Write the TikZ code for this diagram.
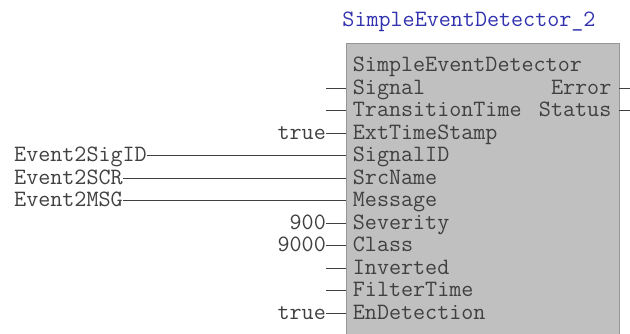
\documentclass[tikz,border=0pt]{standalone}
\usepackage{fontspec}
\usetikzlibrary{positioning}

\definecolor{fbgray}{RGB}{192,192,192}
\definecolor{fbedge}{RGB}{150,150,150}
\definecolor{wire}{RGB}{64,64,64}
\definecolor{instblue}{RGB}{50,50,175}

\tikzset{
    txt/.style={font=\ttfamily\fontsize{23.4}{24}\selectfont, text=wire, inner sep=0pt},
    pinname/.style={txt, anchor=base west},
    pinout/.style={txt, anchor=base east},
    pinval/.style={txt, anchor=base east},
    varname/.style={txt, anchor=base west},
    wireline/.style={draw=wire, line width=1pt},
}

\begin{document}
\begin{tikzpicture}[x=1pt,y=1pt]
        \useasboundingbox (0,0) rectangle (630,-333);

        \def\boxL{345.5}                            % left edge of the block
        \def\boxR{618.7}                            % right edge of the block
        \def\boxT{-43.3}                            % top edge of the block
        \def\rowA{-88.3}                            % wire height of the first pin
        \def\rowH{22.5}                             % distance between pins
        \def\base{6}                                % baseline below wire height
        \def\txtL{352.7}                            % start of the pin names
        \def\stubL{326}                             % left end of the input stubs

        % Draw the block body, running off the bottom of the picture
        \node[draw=fbedge, fill=fbgray, anchor=north west, inner sep=0pt,
              minimum width={\boxR-\boxL}, minimum height=300] (fb) at (\boxL,\boxT) {};

        % Instance name and type name
        \node[txt, text=instblue, anchor=base] (inst) at (469,-26.8) {SimpleEventDetector\_2};
        \node[pinname] (type) at (\txtL,{-65.7-\base}) {SimpleEventDetector};

        % Input pins with their stubs
        \foreach \i/\pin in {0/Signal, 1/TransitionTime, 2/ExtTimeStamp, 3/SignalID,
                             4/SrcName, 5/Message, 6/Severity, 7/Class,
                             8/Inverted, 9/FilterTime, 10/EnDetection}{
            \node[pinname] (\pin) at (\txtL,{\rowA-\i*\rowH-\base}) {\pin};
            \coordinate (\pin-in) at (\stubL,{\rowA-\i*\rowH});
            \draw[wireline] (\pin-in) -- (\pin-in -| fb.west);
        }

        % Constant values on the inputs
        \foreach \pin/\val in {ExtTimeStamp/true, Severity/900, Class/9000, EnDetection/true}{
            \node[pinval] (v-\pin) at (\pin-in |- \pin.base) {\val};
        }

        % Variables wired to the inputs
        \foreach \pin/\var in {SignalID/Event2SigID, SrcName/Event2SCR, Message/Event2MSG}{
            \node[varname] (v-\pin) at (14,0 |- \pin.base) {\var};
            \draw[wireline] (v-\pin.east |- \pin-in) -- (\pin-in);
        }

        % Output pins with their stubs
        \foreach \i/\pin in {0/Error, 1/Status}{
            \node[pinout] (\pin) at (611.5,{\rowA-\i*\rowH-\base}) {\pin};
            \coordinate (\pin-out) at (630,{\rowA-\i*\rowH});
            \draw[wireline] (\pin-out -| fb.east) -- (\pin-out);
        }
\end{tikzpicture}
\end{document}
